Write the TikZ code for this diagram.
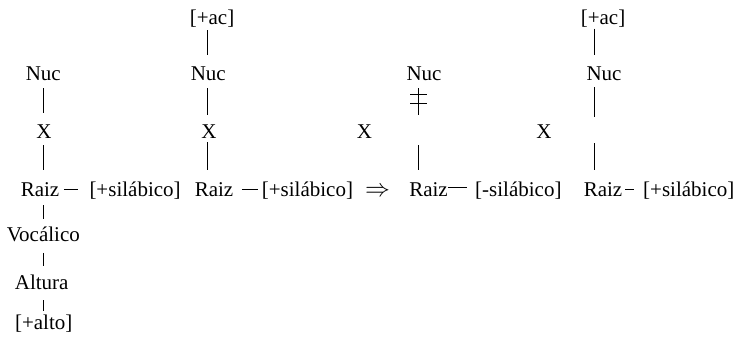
\documentclass[tikz,border=0pt]{standalone}
\usepackage{fontspec}
\setmainfont{Liberation Serif}
\begin{document}
\begin{tikzpicture}[x=1pt,y=-1pt,
  lbl/.style={inner sep=0pt, anchor=base, text height=13.6pt, text depth=0pt, font=\fontsize{21}{25}\selectfont},
  lblw/.style={lbl, anchor=base west},
  stem/.style={line width=1pt}]
\useasboundingbox (0,0) rectangle (736,340);
% axes
\coordinate (ax1) at (43.3,0);
\coordinate (ax2) at (207.3,0);
\coordinate (ax3) at (418.3,0);
\coordinate (ax4) at (594.8,0);
% column 1
\node[lbl] (nuc1) at (43.3,80) {Nuc};
\node[lbl] (x1) at (44,138) {X};
\node[lbl] (raiz1) at (40,196) {Raiz};
\node[lblw] (sil1) at (89.3,196) {[+silábico]};
\node[lbl] (voc) at (43.3,241.7) {Vocálico};
\node[lbl] (alt) at (41.7,289.3) {Altura};
\node[lbl] (alto) at (43.7,329.3) {[+alto]};
\draw[stem, shorten <=8pt, shorten >=11.4pt] (nuc1.south -| ax1) -- (x1.north -| ax1);
\draw[stem, shorten <=7pt, shorten >=12.4pt] (x1.south -| ax1) -- (raiz1.north -| ax1);
\draw[stem, shorten <=9pt, shorten >=9pt] (raiz1.south -| ax1) -- (voc.north -| ax1);
\draw[stem, shorten <=11pt, shorten >=9.5pt] (voc.south -| ax1) -- (alt.north -| ax1);
\draw[stem, shorten <=10.5pt, shorten >=5pt] (alt.south -| ax1) -- (alto.north -| ax1);
\draw[stem, shorten <=4.4pt, shorten >=11pt] ([yshift=7pt]raiz1.base east) -- ([yshift=7pt]sil1.base west);
% column 2
\node[lbl] (ac2) at (212,24) {[+ac]};
\node[lbl] (nuc2) at (208.3,80) {Nuc};
\node[lbl] (x2) at (209,138) {X};
\node[lbl] (raiz2) at (214,196) {Raiz};
\node[lblw] (sil2) at (261.7,196) {[+silábico]};
\draw[stem, shorten <=6pt, shorten >=11.4pt] (ac2.south -| ax2) -- (nuc2.north -| ax2);
\draw[stem, shorten <=8pt, shorten >=9.4pt] (nuc2.south -| ax2) -- (x2.north -| ax2);
\draw[stem, shorten <=4pt, shorten >=12.4pt] (x2.south -| ax2) -- (raiz2.north -| ax2);
\draw[stem, shorten <=8.4pt, shorten >=4pt] ([yshift=7pt]raiz2.base east) -- ([yshift=7pt]sil2.base west);
% arrow
\node[lbl] (arr) at (377.5,196) {\fontsize{23}{25}\selectfont$\Rightarrow$};
% column 3
\node[lbl] (x3) at (364.5,138) {X};
\node[lbl] (nuc3) at (424,80) {Nuc};
\node[lbl] (raiz3) at (428.5,196) {Raiz};
\node[lblw] (sil3) at (475,196) {[-silábico]};
\coordinate (c3a) at (418.3,115);
\coordinate (c3b) at (418.3,145);
\draw[stem, shorten <=8pt] (nuc3.south -| ax3) -- (c3a);
\draw[stem] (410,94.3) -- (426.7,94.3);
\draw[stem] (410,103.3) -- (426.7,103.3);
\draw[stem, shorten <=12.4pt] (raiz3.north -| ax3) -- (c3b);
\draw[stem, shorten >=8.5pt] ([yshift=9pt]raiz3.base east) -- ([yshift=9pt]sil3.base west);
% column 4
\node[lbl] (x4) at (544,138) {X};
\node[lbl] (ac4) at (603,24.5) {[+ac]};
\node[lbl] (nuc4) at (604,80.7) {Nuc};
\node[lbl] (raiz4) at (603,196) {Raiz};
\node[lblw] (sil4) at (643,196) {[+silábico]};
\coordinate (c4a) at (594.8,117);
\coordinate (c4b) at (594.8,143);
\draw[stem, shorten <=4pt, shorten >=12.1pt] (ac4.south -| ax4) -- (nuc4.north -| ax4);
\draw[stem, shorten <=6.3pt] (nuc4.south -| ax4) -- (c4a);
\draw[stem, shorten <=12.4pt] (raiz4.north -| ax4) -- (c4b);
\draw[stem, shorten <=3pt, shorten >=9pt] ([yshift=7pt]raiz4.base east) -- ([yshift=7pt]sil4.base west);
\end{tikzpicture}
\end{document}
